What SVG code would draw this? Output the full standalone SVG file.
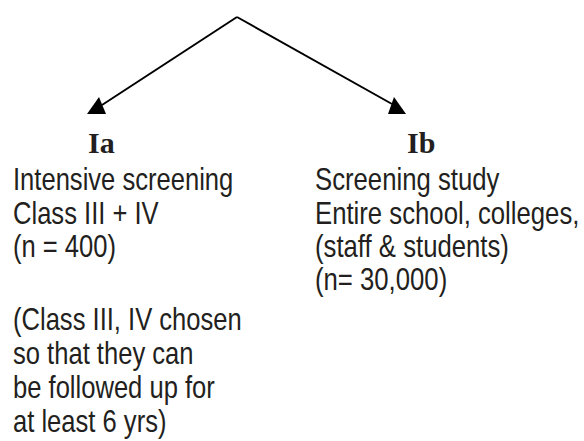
<svg xmlns="http://www.w3.org/2000/svg" width="584" height="441" viewBox="0 0 584 441">
<style>
.t{font-family:"Liberation Sans","Arial",sans-serif;font-size:31px;fill:#231f20}
.h{font-family:"Liberation Serif","Times New Roman",serif;font-weight:bold;font-size:30px;fill:#231f20}
.ln{stroke:#000;stroke-width:2;fill:none}
.ah{fill:#000}
</style>
<rect width="584" height="441" fill="#fff"/>
<g id="connectors">
<path class="ln" d="M237,17 L102,105"/>
<path class="ln" d="M237,17 L392,104"/>
<polygon class="ah" points="87,114 99,97 106,114"/>
<polygon class="ah" points="406,114 394,97 388,114"/>
</g>
<g id="node-Ia">
<text class="h" x="88" y="153">Ia</text>
<g transform="translate(13,0) scale(0.825,1)">
<text class="t" x="0" y="190">Intensive screening</text>
<text class="t" x="0" y="224">Class III + IV</text>
<text class="t" x="0" y="257">(n = 400)</text>
</g>
</g>
<g id="note-Ia">
<g transform="translate(13,0) scale(0.825,1)">
<text class="t" x="0" y="330">(Class III, IV chosen</text>
<text class="t" x="0" y="364">so that they can</text>
<text class="t" x="0" y="398">be followed up for</text>
<text class="t" x="0" y="432">at least 6 yrs)</text>
</g>
</g>
<g id="node-Ib">
<text class="h" x="407" y="153">Ib</text>
<g transform="translate(315,0) scale(0.83,1)">
<text class="t" x="0" y="190">Screening study</text>
<text class="t" x="0" y="224">Entire school, colleges,</text>
<text class="t" x="0" y="257">(staff &amp; students)</text>
<text class="t" x="0" y="290">(n= 30,000)</text>
</g>
</g>
</svg>
